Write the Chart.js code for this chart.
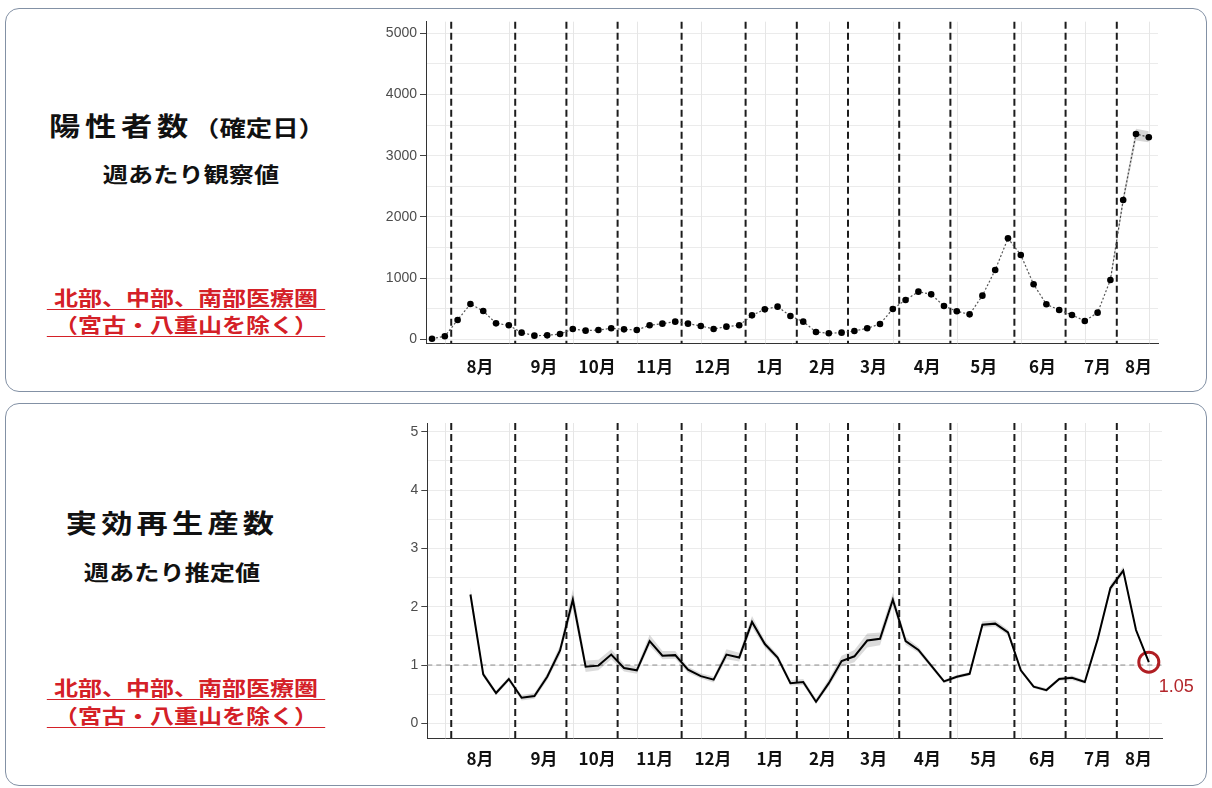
<!DOCTYPE html>
<html>
<head>
<meta charset="utf-8">
<script src="https://cdn.jsdelivr.net/npm/chart.js@4/dist/chart.umd.min.js"></script>
<style>
  body { margin: 0; background: #fff; width: 1212px; height: 788px; overflow: hidden; position: relative;
         font-family: 'Noto Sans CJK JP', sans-serif; }
  .panel { position: absolute; left: 5px; width: 1200px; border: 1.5px solid #8391a5; border-radius: 14px; background: #fff; }
  .txt { position: absolute; white-space: nowrap; text-align: center; font-weight: bold; line-height: 1; transform: scaleX(1.2); }
  .red { color: #d42027; font-size: 20px; border-bottom: 1.5px solid #d42027; width: 232px; padding-bottom: 1px; }
  canvas { position: absolute; }
</style>
</head>
<body>
<div class="panel" style="top:8px;height:382px"></div>
<div class="panel" style="top:403px;height:381px"></div>

<div class="txt" style="left:32px;width:310px;top:112px;color:#111">
  <span style="font-size:26px;letter-spacing:4px">陽性者数</span><span style="font-size:22px">（確定日）</span>
</div>
<div class="txt" style="left:36px;width:310px;top:163px;font-size:21px;color:#111">週あたり観察値</div>
<div class="txt red" style="left:70px;top:288px">北部、中部、南部医療圏</div>
<div class="txt red" style="left:70px;top:315px">（宮古・八重山を除く）</div>

<div class="txt" style="left:22px;width:300px;top:509px;font-size:26px;letter-spacing:3.5px;color:#111">実効再生産数</div>
<div class="txt" style="left:22px;width:300px;top:561px;font-size:21px;color:#111">週あたり推定値</div>
<div class="txt red" style="left:70px;top:678px">北部、中部、南部医療圏</div>
<div class="txt red" style="left:70px;top:706px">（宮古・八重山を除く）</div>

<canvas id="top" width="842" height="380" style="left:370px;top:10px"></canvas>
<canvas id="bottom" width="842" height="370" style="left:370px;top:410px"></canvas>

<script>
// weeks since start (x), one point per week
const weeks = [0,1,2,3,4,5,6,7,8,9,10,11,12,13,14,15,16,17,18,19,20,21,22,23,24,25,26,27,28,
  29,30,31,32,33,34,35,36,37,38,39,40,41,42,43,44,45,46,47,48,49,50,51,52,53,54,55,56];

// 陽性者数 (weekly)
const posCases = [10,50,316,577,463,261,229,109,60,65,87,169,142,152,180,163,152,229,256,289,
  256,218,169,207,229,392,490,534,381,289,120,98,109,136,180,251,496,643,779,735,545,458,408,
  714,1133,1650,1378,899,572,479,398,300,436,970,2277,3355,3301];
const posLow = [null,null,null,null,null,null,null,null,null,null,null,null,null,null,null,null,
  null,null,null,null,null,null,null,null,null,null,null,null,null,null,null,null,null,null,null,
  null,null,null,null,null,null,null,null,null,null,null,null,null,null,null,null,null,null,
  930,2200,3250,3220];
const posHigh = [null,null,null,null,null,null,null,null,null,null,null,null,null,null,null,null,
  null,null,null,null,null,null,null,null,null,null,null,null,null,null,null,null,null,null,null,
  null,null,null,null,null,null,null,null,null,null,null,null,null,null,null,null,null,null,
  1010,2350,3440,3400];

// 実効再生産数 (weekly estimate) with band
const rtValues = [null,null,null,2.21,0.84,0.52,0.76,0.44,0.47,0.80,1.25,2.12,0.97,0.99,1.18,0.95,
  0.91,1.41,1.16,1.17,0.92,0.81,0.75,1.18,1.13,1.74,1.36,1.13,0.69,0.71,0.37,0.69,1.07,1.15,1.42,
  1.45,2.12,1.41,1.26,0.99,0.72,0.80,0.85,1.69,1.71,1.56,0.91,0.63,0.57,0.76,0.78,0.71,1.44,2.32,
  2.62,1.60,1.05];
const rtLow = [null,null,null,2.10,0.80,0.48,0.72,0.39,0.42,0.74,1.17,1.98,0.88,0.91,1.10,0.89,
  0.85,1.33,1.10,1.11,0.87,0.77,0.70,1.10,1.06,1.65,1.30,1.08,0.65,0.66,0.33,0.63,0.98,1.05,1.30,
  1.34,2.02,1.35,1.21,0.95,0.69,0.77,0.82,1.64,1.66,1.51,0.88,0.60,0.54,0.73,0.74,0.68,1.40,2.26,
  2.56,1.56,1.02];
const rtHigh = [null,null,null,2.34,0.89,0.56,0.80,0.48,0.52,0.86,1.34,2.30,1.08,1.09,1.27,1.02,
  0.97,1.52,1.24,1.24,0.97,0.86,0.80,1.27,1.21,1.84,1.42,1.18,0.74,0.76,0.42,0.76,1.16,1.26,1.54,
  1.56,2.24,1.48,1.31,1.03,0.75,0.83,0.88,1.75,1.77,1.61,0.94,0.66,0.60,0.79,0.82,0.74,1.48,2.38,
  2.69,1.64,1.08];
const latestWeek = 56;
const latestRt = 1.05;

// axis labels and markers (in week units)
const monthLabels = ['8月','9月','10月','11月','12月','1月','2月','3月','4月','5月','6月','7月','8月'];
const monthTickAt = [3.75,8.75,12.9,17.4,21.95,26.4,30.5,34.5,38.7,43.1,47.7,52,55.2];
const eventWeeks = [1.5,6.5,10.5,14.5,19.5,24.5,28.5,32.5,36.5,40.5,45.5,49.5,53.5];
const gridWeeks = [1,6,11,16,21,26,31,36,41,46,51,56];
const posTicks = [0,500,1000,1500,2000,2500,3000,3500,4000,4500,5000];
const rtTicks = [0,0.5,1,1.5,2,2.5,3,3.5,4,4.5,5];

const overlay = {
  id: 'overlay',
  beforeDatasetsDraw(chart, args, opts) {
    const {ctx, chartArea: a, scales: {x, y}} = chart;
    ctx.save();
    ctx.strokeStyle = '#e6e6e6';
    ctx.lineWidth = 1;
    gridWeeks.forEach(w => {
      const px = Math.round(x.getPixelForValue(w)) + 0.5;
      ctx.beginPath(); ctx.moveTo(px, a.top); ctx.lineTo(px, a.bottom); ctx.stroke();
    });
    if (opts.refLine != null) {
      const py = y.getPixelForValue(opts.refLine);
      ctx.strokeStyle = '#8a8a8a';
      ctx.setLineDash([5, 4]);
      ctx.beginPath(); ctx.moveTo(a.left, py); ctx.lineTo(a.right, py); ctx.stroke();
    }
    ctx.strokeStyle = '#1c1c1c';
    ctx.lineWidth = 2;
    ctx.setLineDash([7, 4]);
    eventWeeks.forEach(w => {
      const px = x.getPixelForValue(w);
      ctx.beginPath(); ctx.moveTo(px, a.top); ctx.lineTo(px, a.bottom); ctx.stroke();
    });
    ctx.restore();
  },
  afterDatasetsDraw(chart, args, opts) {
    if (!opts.label) return;
    const pt = chart.getDatasetMeta(opts.label.dataset).data[0];
    const ctx = chart.ctx;
    ctx.save();
    ctx.fillStyle = '#b3262b';
    ctx.font = '18px "Liberation Sans", Arial, sans-serif';
    ctx.textAlign = 'left';
    ctx.textBaseline = 'middle';
    ctx.fillText(opts.label.text, pt.x + 10, pt.y + 25);
    ctx.restore();
  }
};

function xScale(min, max, h, pad) {
  return {
    type: 'linear', min: min, max: max,
    grid: { display: false, drawTicks: false },
    border: { color: '#333', width: 1 },
    afterBuildTicks: s => { s.ticks = monthTickAt.map(v => ({ value: v })); },
    afterFit: s => { s.height = h; },
    ticks: {
      autoSkip: false, maxRotation: 0, padding: pad, color: '#111',
      font: { family: "'Noto Sans CJK JP', sans-serif", size: 17, weight: 'bold' },
      callback: (v, i) => monthLabels[i]
    }
  };
}

function yScale(min, max, tickList, major, w) {
  return {
    min: min, max: max,
    afterBuildTicks: s => { s.ticks = tickList.map(v => ({ value: v })); },
    afterFit: s => { s.width = w; },
    border: { color: '#333', width: 1 },
    grid: {
      color: '#ebebeb', lineWidth: 1, drawTicks: true, tickLength: 6,
      tickColor: c => (c.tick && Math.abs(c.tick.value % major) < 1e-9) ? '#444' : 'rgba(0,0,0,0)'
    },
    ticks: {
      padding: 3, color: '#4d4d4d',
      font: { family: "'Liberation Sans', Arial, sans-serif", size: 14 },
      callback: v => (Math.abs(v % major) < 1e-9 ? String(v) : '')
    }
  };
}

new Chart(document.getElementById('top'), {
  type: 'line',
  data: {
    labels: weeks,
    datasets: [
      { data: posLow, borderWidth: 0, pointRadius: 0, fill: false },
      { data: posHigh, borderWidth: 0, pointRadius: 0, fill: '-1', backgroundColor: 'rgba(0,0,0,0.16)' },
      { data: posCases, borderColor: '#555', borderWidth: 1.2, borderDash: [2, 2],
        pointRadius: 3.3, pointBackgroundColor: '#000', pointBorderWidth: 0, tension: 0 }
    ]
  },
  options: {
    responsive: false, animation: false,
    layout: { padding: { top: 11.7, right: 54, left: 0, bottom: 0 } },
    plugins: { legend: { display: false }, tooltip: { enabled: false }, overlay: { refLine: null } },
    scales: {
      x: xScale(-0.47, 56.72, 46.7, 13),
      y: yScale(-65, 5190, posTicks, 1000, 56)
    }
  },
  plugins: [overlay]
});

new Chart(document.getElementById('bottom'), {
  type: 'line',
  data: {
    labels: weeks,
    datasets: [
      { data: rtLow, borderWidth: 0, pointRadius: 0, fill: false },
      { data: rtHigh, borderWidth: 0, pointRadius: 0, fill: '-1', backgroundColor: 'rgba(0,0,0,0.14)' },
      { data: rtValues, borderColor: '#000', borderWidth: 2, pointRadius: 0, tension: 0 },
      { data: [{ x: latestWeek, y: latestRt }], showLine: false, pointRadius: 10,
        pointBorderColor: '#b01e23', pointBorderWidth: 3, pointBackgroundColor: 'rgba(0,0,0,0)' }
    ]
  },
  options: {
    responsive: false, animation: false,
    layout: { padding: { top: 11.7, right: 50, left: 0, bottom: 0 } },
    plugins: { legend: { display: false }, tooltip: { enabled: false },
      overlay: { refLine: 1, label: { dataset: 3, text: latestRt.toFixed(2) } } },
    scales: {
      x: xScale(-0.37, 57.03, 41.7, 10),
      y: yScale(-0.256, 5.15, rtTicks, 1, 57.3)
    }
  },
  plugins: [overlay]
});
</script>
</body>
</html>
